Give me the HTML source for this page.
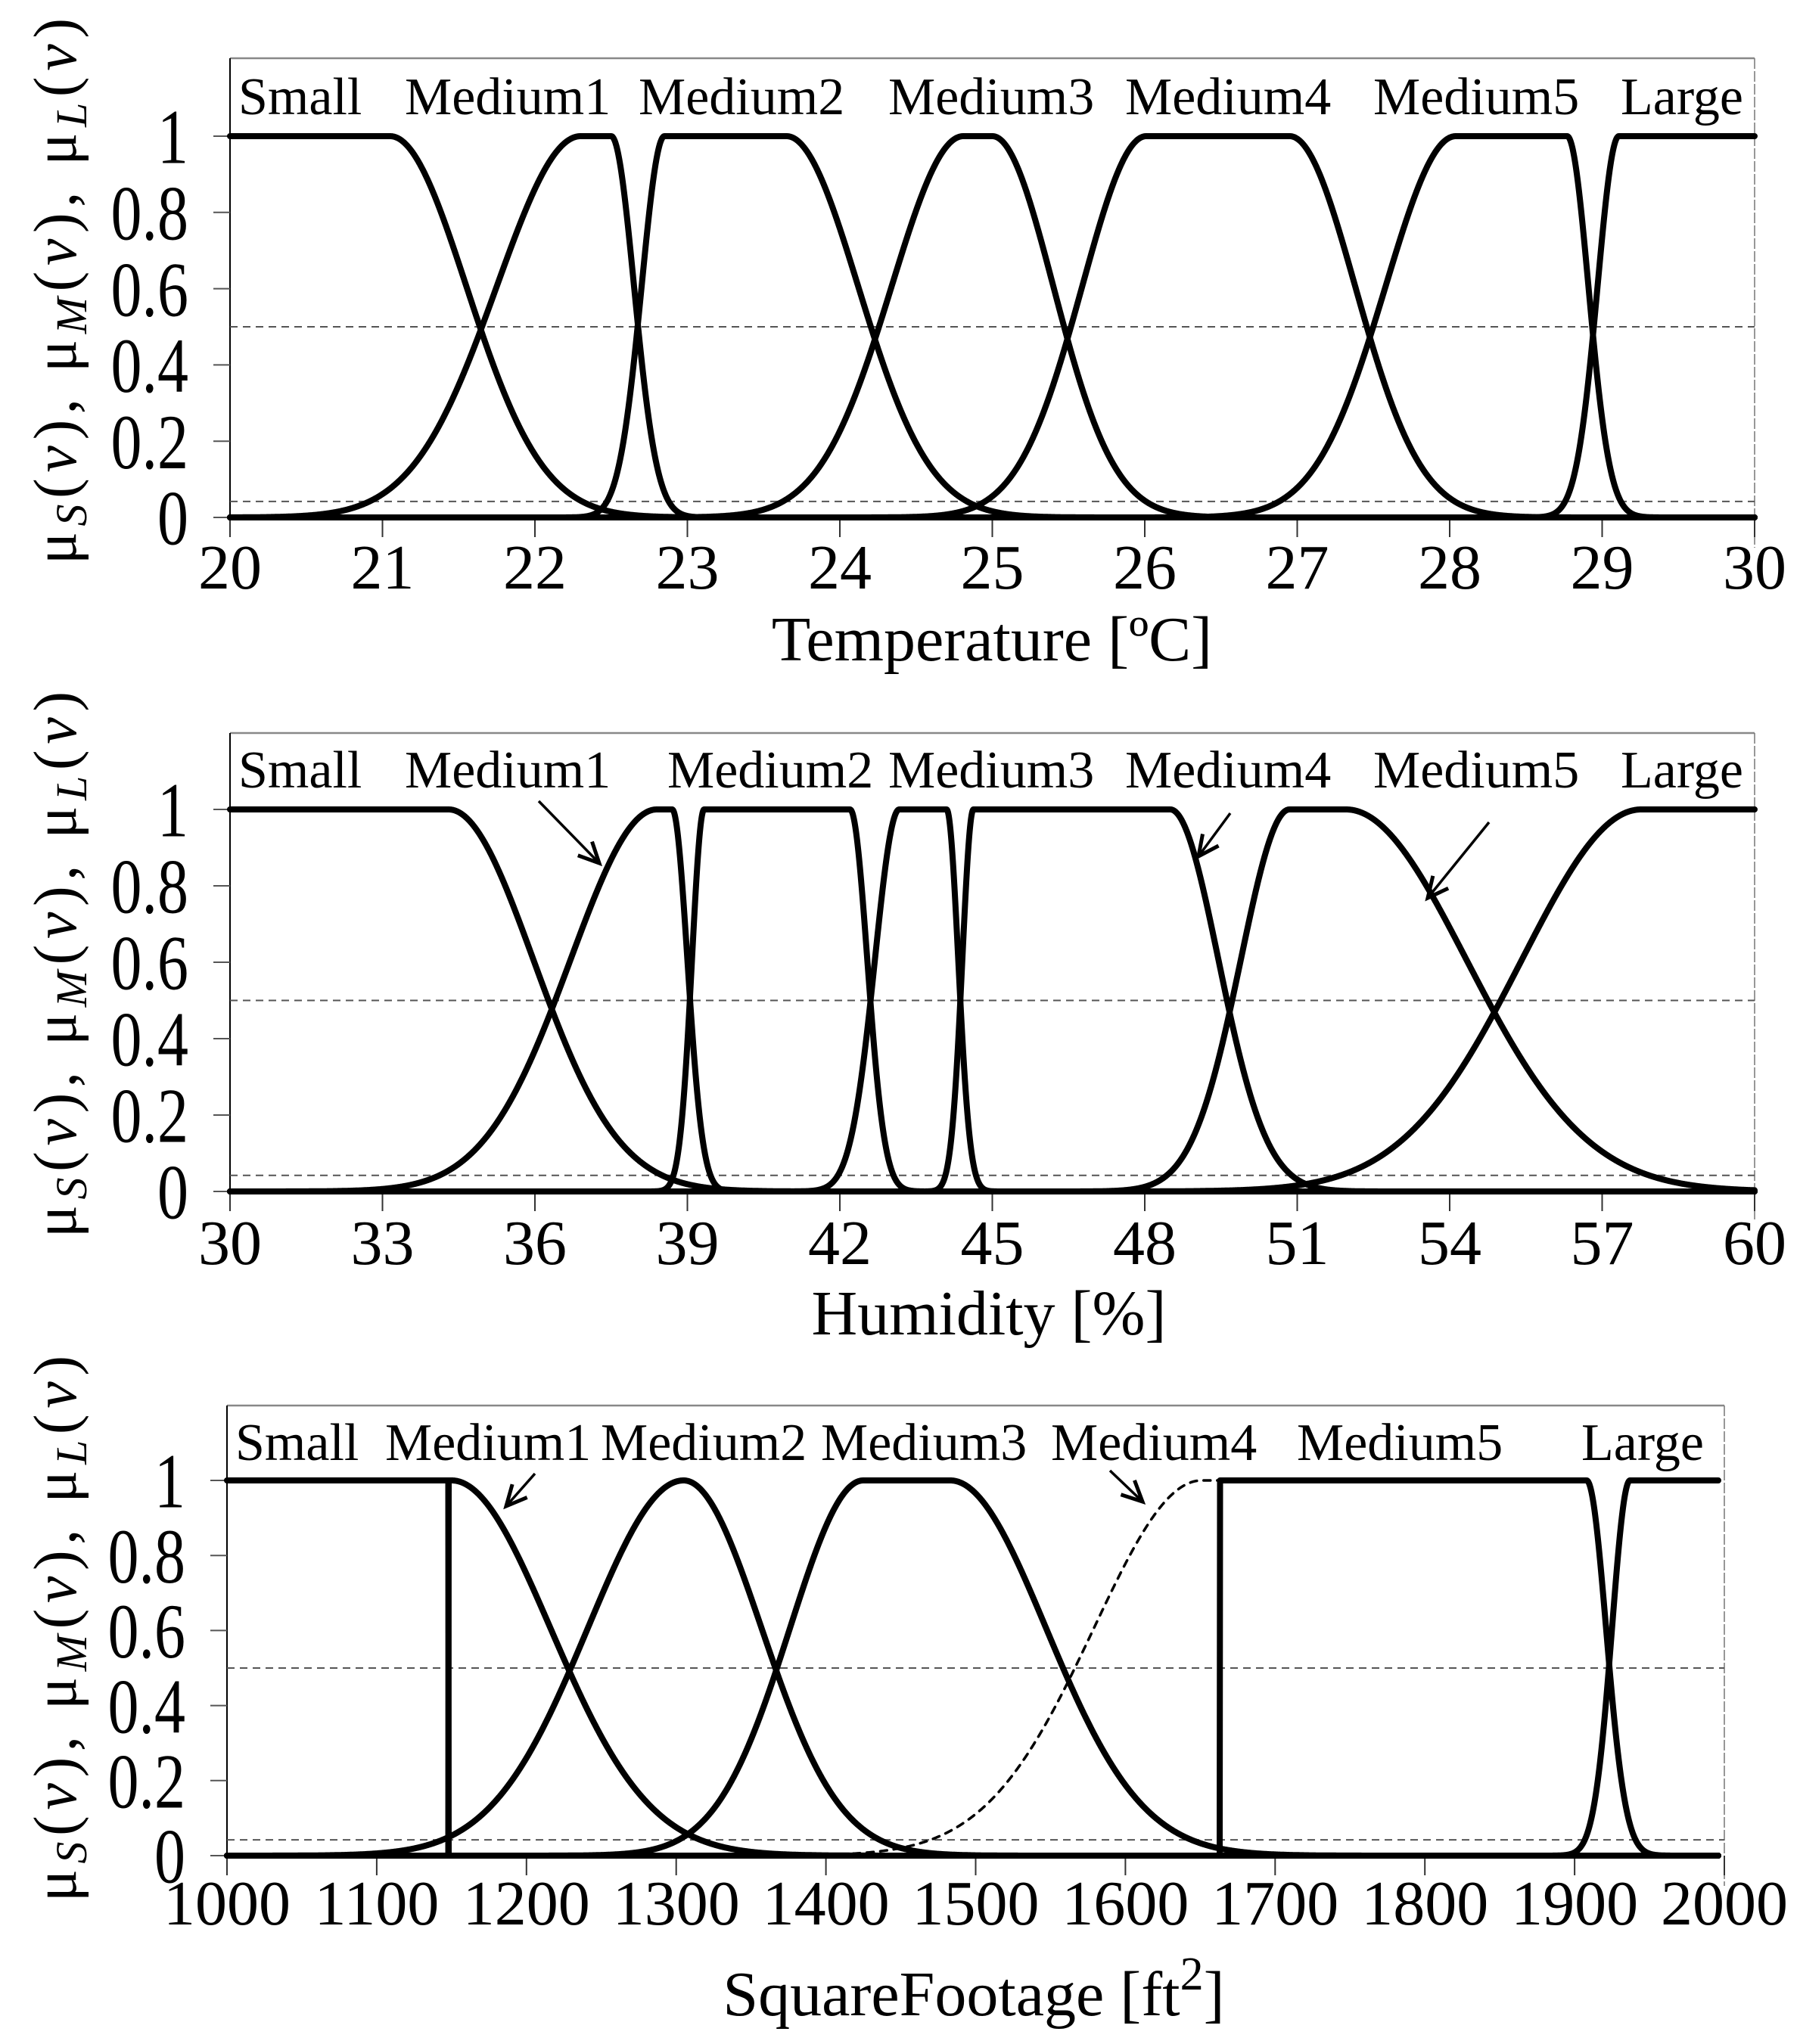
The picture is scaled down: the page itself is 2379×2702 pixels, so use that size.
<!DOCTYPE html>
<html><head><meta charset="utf-8"><style>
html,body{margin:0;padding:0;background:#fff;}
svg{display:block;font-family:"Liberation Serif","DejaVu Serif",serif;}
</style></head><body>
<svg id="chart" xmlns="http://www.w3.org/2000/svg" width="2379" height="2702" viewBox="0 0 2379 2702">
<rect x="0" y="0" width="2379" height="2702" fill="#fff"/>
<g id="root"></g>
</svg>
<script>
// ---- Data ----
const setNames = ["Small","Medium1","Medium2","Medium3","Medium4","Medium5","Large"];
// Temperature
const tempTicks = [20,21,22,23,24,25,26,27,28,29,30];
const tempLeftC  = [null, 22.3, 22.85, 24.81, 26.01, 28.04, 29.11];
const tempLeftS  = [null, 0.55, 0.15, 0.47, 0.42, 0.46, 0.14];
const tempRightC = [21.05, 22.5, 23.65, 25.0, 26.95, 28.77, null];
const tempRightS = [0.5, 0.15, 0.47, 0.40, 0.43, 0.14, null];
// Humidity
const humTicks = [30,33,36,39,42,45,48,51,54,57,60];
const humLeftC  = [null, 38.4, 39.33, 43.17, 44.63, 50.85, 57.77];
const humLeftS  = [null, 1.7, 0.24, 0.48, 0.22, 0.96, 2.35];
const humRightC = [34.3, 38.7, 42.2, 44.1, 48.5, 51.96, null];
const humRightS = [1.67, 0.3, 0.34, 0.23, 0.95, 2.37, null];
// Square footage (0 sigma = hard step)
const sqTicks = [1000,1100,1200,1300,1400,1500,1600,1700,1800,1900,2000];
const sqLeftC  = [null, 1148, 1305, 1425, 1651, 1663, 1937];
const sqLeftS  = [null, 0, 64, 49, 72, 0, 12];
const sqRightC = [1148, 1150, 1305, 1483, 1663, 1908, null];
const sqRightS = [0, 66, 52, 64, 0, 13, null];
const yTicks = [0, 0.2, 0.4, 0.6, 0.8, 1];
const yTickLabels = ["0","0.2","0.4","0.6","0.8","1"];
const guideValues = [0.5, 0.042];

const NS = "http://www.w3.org/2000/svg";
const root = document.getElementById('root');
function mk(tag, attrs, parent, text){
  const e = document.createElementNS(NS, tag);
  for (const k in attrs) e.setAttribute(k, attrs[k]);
  if (text !== undefined) e.textContent = text;
  (parent||root).appendChild(e);
  return e;
}
function mf(x, lc, ls, rc, rs){
  if (lc !== null && x < lc){ if (ls === 0) return 0; const d=(x-lc)/ls; return Math.exp(-d*d/2); }
  if (rc !== null && x > rc){ if (rs === 0) return 0; const d=(x-rc)/rs; return Math.exp(-d*d/2); }
  return 1;
}

const panels = [
  {id:"temperature", xmin:20, xmax:30, L:304, R:2319, y0:684, y1:180, top:77, ticks:tempTicks,
   lc:tempLeftC, ls:tempLeftS, rc:tempRightC, rs:tempRightS, lineEnd:30, dotted:-1,
   labelsY:151, labelX:[315,535,844,1174,1487,1815,2142], tickLabelY:778,
   title:"Temperature [ºC]", titleX:1311, titleY:873, ylabY:385,
   arrows:[]},
  {id:"humidity", xmin:30, xmax:60, L:304, R:2319, y0:1575, y1:1070, top:969, ticks:humTicks,
   lc:humLeftC, ls:humLeftS, rc:humRightC, rs:humRightS, lineEnd:60, dotted:-1,
   labelsY:1041, labelX:[315,535,882,1174,1487,1815,2142], tickLabelY:1671,
   title:"Humidity [%]", titleX:1307, titleY:1764, ylabY:1275,
   arrows:[[712,1059,792,1141],[1626,1075,1584,1132],[1968,1087,1887,1187]]},
  {id:"squarefootage", xmin:1000, xmax:2000, L:300, R:2279, y0:2453, y1:1957, top:1858, ticks:sqTicks,
   lc:sqLeftC, ls:sqLeftS, rc:sqRightC, rs:sqRightS, lineEnd:1996, dotted:4,
   labelsY:1930, labelX:[311,509,794,1085,1389,1714,2090], tickLabelY:2544,
   title:"SquareFootage [ft", titleX:1287, titleY:2664, ylabY:2153,
   arrows:[[707,1948,669,1991],[1467,1944,1510,1985]]}
];

panels.forEach(p => {
  const g = mk('g', {});
  
  
  const X = v => p.L + (v - p.xmin) / (p.xmax - p.xmin) * (p.R - p.L);
  const Y = v => p.y0 - v * (p.y0 - p.y1);

  const ft = mk('line',{x1:p.L,y1:p.top,x2:p.R,y2:p.top,stroke:'#888','stroke-width':2.5},g);
   
  const fr = mk('line',{x1:p.R,y1:p.top,x2:p.R,y2:p.y0+40,stroke:'#777','stroke-width':1.5,'stroke-dasharray':'14 3'},g);
   
  const ya = mk('line',{x1:p.L,y1:p.top,x2:p.L,y2:p.y0+22,stroke:'#000','stroke-width':2},g);
   

  guideValues.forEach(gv => {
    const l = mk('line',{x1:p.L,y1:Y(gv),x2:p.R,y2:Y(gv),stroke:'#555','stroke-width':2,'stroke-dasharray':'10 7'},g);
     
  });

  yTicks.forEach((t,i) => {
    const tl = mk('line',{x1:p.L-22,y1:Y(t),x2:p.L,y2:Y(t),stroke:'#555','stroke-width':2},g);
     
    const tx = mk('text',{x:0,y:0,'text-anchor':'end','font-size':82,'dominant-baseline':'central',
      transform:`translate(${p.L-55},${Y(t)+2}) scale(1,1.25)`},g,yTickLabels[i]);
     
  });
  p.ticks.forEach(t => {
    const tl = mk('line',{x1:X(t),y1:p.y0,x2:X(t),y2:p.y0+26,stroke:'#333','stroke-width':2},g);
     
    const tx = mk('text',{x:X(t),y:p.tickLabelY,'text-anchor':'middle','font-size':84},g,String(t));
     
  });

  for (let k = 0; k < setNames.length; k++){
    let d = '';
    const x0 = X(p.xmin), x1 = X(p.lineEnd);
    for (let px = x0; px <= x1 + 0.01; px += 0.5){
      const v = p.xmin + (px - p.L) / (p.R - p.L) * (p.xmax - p.xmin);
      const m = mf(v, p.lc[k], p.ls[k], p.rc[k], p.rs[k]);
      d += (d ? 'L' : 'M') + px.toFixed(1) + ',' + Y(m).toFixed(1);
    }
    const isDot = (k === p.dotted);
    const c = mk('path',{d:d,fill:'none',stroke:'#000','stroke-width':isDot?3.5:8,
      'stroke-linejoin':'round','stroke-linecap':'round','stroke-dasharray':isDot?'9 9':'none'},g);
    
    
  }

  setNames.forEach((n,i) => {
    const t = mk('text',{x:p.labelX[i],y:p.labelsY,'font-size':70},g,n);
    
    
  });

  p.arrows.forEach(a => {
    const ag = mk('g',{},g);
     
    mk('line',{x1:a[0],y1:a[1],x2:a[2],y2:a[3],stroke:'#000','stroke-width':3.5},ag);
    const ang = Math.atan2(a[3]-a[1], a[2]-a[0]);
    const hl = 30, hw = 0.45;
    const p1x = a[2] - hl*Math.cos(ang-hw), p1y = a[3] - hl*Math.sin(ang-hw);
    const p2x = a[2] - hl*Math.cos(ang+hw), p2y = a[3] - hl*Math.sin(ang+hw);
    mk('path',{d:`M${p1x},${p1y} L${a[2]},${a[3]} L${p2x},${p2y}`,fill:'none',stroke:'#000','stroke-width':5,'stroke-linejoin':'miter'},ag);
  });

  const tt = mk('text',{x:p.titleX,y:p.titleY,'text-anchor':'middle','font-size':84},g);
   
  if (p.id === 'squarefootage'){
    tt.innerHTML = 'SquareFootage [ft<tspan dy="-34" font-size="62">2</tspan><tspan dy="34">]</tspan>';
  } else {
    tt.textContent = p.title;
  }

  const yt = mk('text',{x:0,y:0,'text-anchor':'middle','font-size':80,textLength:722,lengthAdjust:'spacing',
    transform:`translate(100,${p.ylabY}) rotate(-90)`},g);
   
  yt.innerHTML = 'μ<tspan font-style="italic" font-size="58" dy="14">S</tspan><tspan dy="-14">(</tspan><tspan font-style="italic">v</tspan>),   μ<tspan font-style="italic" font-size="58" dy="14">M</tspan><tspan dy="-14">(</tspan><tspan font-style="italic">v</tspan>),   μ<tspan font-style="italic" font-size="58" dy="14">L</tspan><tspan dy="-14">(</tspan><tspan font-style="italic">v</tspan>)';
});
</script>
</body></html>
